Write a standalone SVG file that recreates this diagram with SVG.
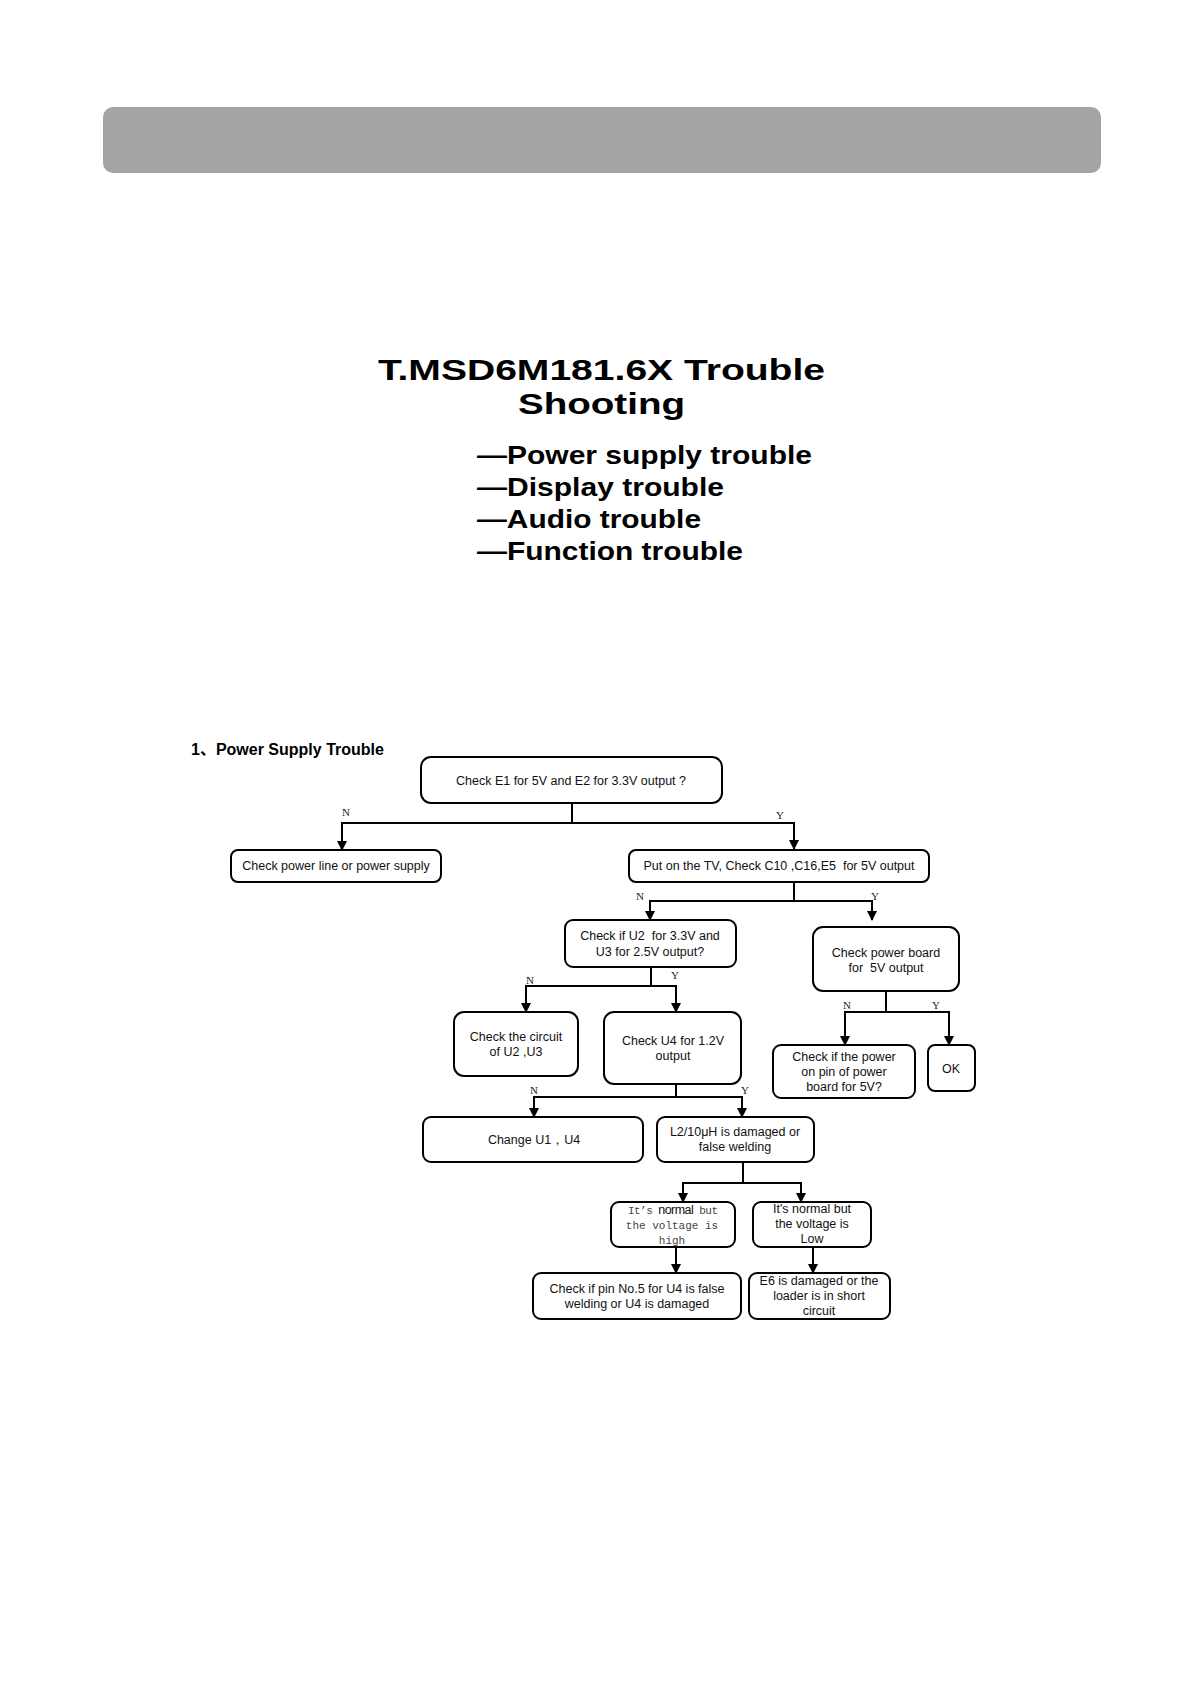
<svg xmlns="http://www.w3.org/2000/svg" width="1190" height="1684" viewBox="0 0 1190 1684">
<defs>
<style>
.box{fill:#fff;stroke:#000;stroke-width:2}
.t{font-family:"Liberation Sans",Arial,sans-serif;font-size:12.5px;fill:#111;text-anchor:middle}
.m{font-family:"Liberation Mono","Courier New",monospace;font-size:11px;fill:#444}
.lb{font-family:"Liberation Serif","Times New Roman",serif;font-size:11px;fill:#222;text-anchor:middle}
.ln{fill:none;stroke:#000;stroke-width:2}
.ar{fill:none;stroke:#000;stroke-width:2;marker-end:url(#ah)}
.hd{font-family:"Liberation Sans",Arial,sans-serif;font-weight:bold;fill:#000}
</style>
<marker id="ah" markerUnits="userSpaceOnUse" markerWidth="10" markerHeight="10" refX="9" refY="5" orient="auto">
<path d="M0,0 L10,5 L0,10 z" fill="#000"/>
</marker>
</defs>
<rect x="0" y="0" width="1190" height="1684" fill="#fff"/>
<rect id="banner" x="103" y="107" width="998" height="66" rx="10" fill="#a4a4a4"/>
<g id="title">
<text class="hd" x="378" y="380" font-size="30" textLength="447" lengthAdjust="spacingAndGlyphs">T.MSD6M181.6X Trouble</text>
<text class="hd" x="518" y="414" font-size="30" textLength="167" lengthAdjust="spacingAndGlyphs">Shooting</text>
<text class="hd" x="477" y="464" font-size="25" textLength="335" lengthAdjust="spacingAndGlyphs">—Power supply trouble</text>
<text class="hd" x="477" y="496" font-size="25" textLength="247" lengthAdjust="spacingAndGlyphs">—Display trouble</text>
<text class="hd" x="477" y="528" font-size="25" textLength="224" lengthAdjust="spacingAndGlyphs">—Audio trouble</text>
<text class="hd" x="477" y="560" font-size="25" textLength="266" lengthAdjust="spacingAndGlyphs">—Function trouble</text>
</g>
<text id="heading" x="191" y="755" font-family="'Liberation Sans','Noto Sans CJK SC',sans-serif" font-weight="bold" font-size="16" fill="#000">1、Power Supply Trouble</text>

<g id="connectors">
<path class="ln" d="M572,803 V823 M342,823 H794 M794,882 V901 M650,901 H872 M651,967 V986 M526,986 H676 M886,991 V1012 M845,1012 H949 M676,1084 V1097 M534,1097 H742 M743,1162 V1183 M683,1183 H801"/>
<path class="ar" d="M342,822 V850"/>
<path class="ar" d="M794,822 V849"/>
<path class="ar" d="M650,900 V920"/>
<path class="ar" d="M872,900 V920"/>
<path class="ar" d="M526,985 V1012"/>
<path class="ar" d="M676,985 V1012"/>
<path class="ar" d="M845,1011 V1045"/>
<path class="ar" d="M949,1011 V1045"/>
<path class="ar" d="M534,1096 V1117"/>
<path class="ar" d="M742,1096 V1117"/>
<path class="ar" d="M683,1182 V1202"/>
<path class="ar" d="M801,1182 V1202"/>
<path class="ar" d="M676,1247 V1273"/>
<path class="ar" d="M813,1247 V1273"/>
<text class="lb" x="346" y="816">N</text>
<text class="lb" x="780" y="819">Y</text>
<text class="lb" x="640" y="900">N</text>
<text class="lb" x="875" y="900">Y</text>
<text class="lb" x="530" y="984">N</text>
<text class="lb" x="675" y="979">Y</text>
<text class="lb" x="847" y="1009">N</text>
<text class="lb" x="936" y="1009">Y</text>
<text class="lb" x="534" y="1094">N</text>
<text class="lb" x="745" y="1094">Y</text>
</g>

<g id="n1"><rect class="box" x="421" y="757" width="301" height="46" rx="10"/><text class="t" x="571" y="785">Check E1 for 5V and E2 for 3.3V output ?</text></g>
<g id="n2"><rect class="box" x="231" y="850" width="210" height="32" rx="7"/><text class="t" x="336" y="870">Check power line or power supply</text></g>
<g id="n3"><rect class="box" x="629" y="850" width="300" height="32" rx="7"/><text class="t" x="779" y="870" xml:space="preserve">Put on the TV, Check C10 ,C16,E5  for 5V output</text></g>
<g id="n4"><rect class="box" x="565" y="920" width="171" height="47" rx="8"/><text class="t" x="650" y="940" xml:space="preserve">Check if U2  for 3.3V and</text><text class="t" x="650" y="956">U3 for 2.5V output?</text></g>
<g id="n5"><rect class="box" x="813" y="927" width="146" height="64" rx="10"/><text class="t" x="886" y="957">Check power board</text><text class="t" x="886" y="972" xml:space="preserve">for  5V output</text></g>
<g id="n6"><rect class="box" x="454" y="1012" width="124" height="64" rx="10"/><text class="t" x="516" y="1041">Check the circuit</text><text class="t" x="516" y="1056">of U2 ,U3</text></g>
<g id="n7"><rect class="box" x="604" y="1012" width="137" height="72" rx="10"/><text class="t" x="673" y="1045">Check U4 for 1.2V</text><text class="t" x="673" y="1060">output</text></g>
<g id="n8"><rect class="box" x="773" y="1045" width="142" height="53" rx="8"/><text class="t" x="844" y="1061">Check if the power</text><text class="t" x="844" y="1076">on pin of power</text><text class="t" x="844" y="1091">board for 5V?</text></g>
<g id="n9"><rect class="box" x="928" y="1045" width="47" height="46" rx="7"/><text class="t" x="951" y="1073">OK</text></g>
<g id="n10"><rect class="box" x="423" y="1117" width="220" height="45" rx="8"/><text class="t" x="534" y="1144" font-family="'Liberation Sans','Noto Sans CJK SC',sans-serif">Change U1，U4</text></g>
<g id="n11"><rect class="box" x="657" y="1117" width="157" height="45" rx="8"/><text class="t" x="735" y="1136">L2/10μH is damaged or</text><text class="t" x="735" y="1151">false welding</text></g>
<g id="n12"><rect class="box" x="611" y="1202" width="124" height="45" rx="8"/>
<text x="628" y="1214" textLength="90"><tspan class="m">It’s </tspan><tspan font-family="'Liberation Sans',Arial,sans-serif" font-size="12.5" fill="#111">normal</tspan><tspan class="m"> but</tspan></text>
<text class="m" x="672" y="1229" text-anchor="middle">the voltage is</text>
<text class="m" x="672" y="1244" text-anchor="middle">high</text></g>
<g id="n13"><rect class="box" x="753" y="1202" width="118" height="45" rx="8"/><text class="t" x="812" y="1213">It's normal but</text><text class="t" x="812" y="1228">the voltage is</text><text class="t" x="812" y="1243">Low</text></g>
<g id="n14"><rect class="box" x="533" y="1273" width="208" height="46" rx="8"/><text class="t" x="637" y="1293">Check if pin No.5 for U4 is false</text><text class="t" x="637" y="1308">welding or U4 is damaged</text></g>
<g id="n15"><rect class="box" x="749" y="1273" width="141" height="46" rx="8"/><text class="t" x="819" y="1285">E6 is damaged or the</text><text class="t" x="819" y="1300">loader is in short</text><text class="t" x="819" y="1315">circuit</text></g>
</svg>
